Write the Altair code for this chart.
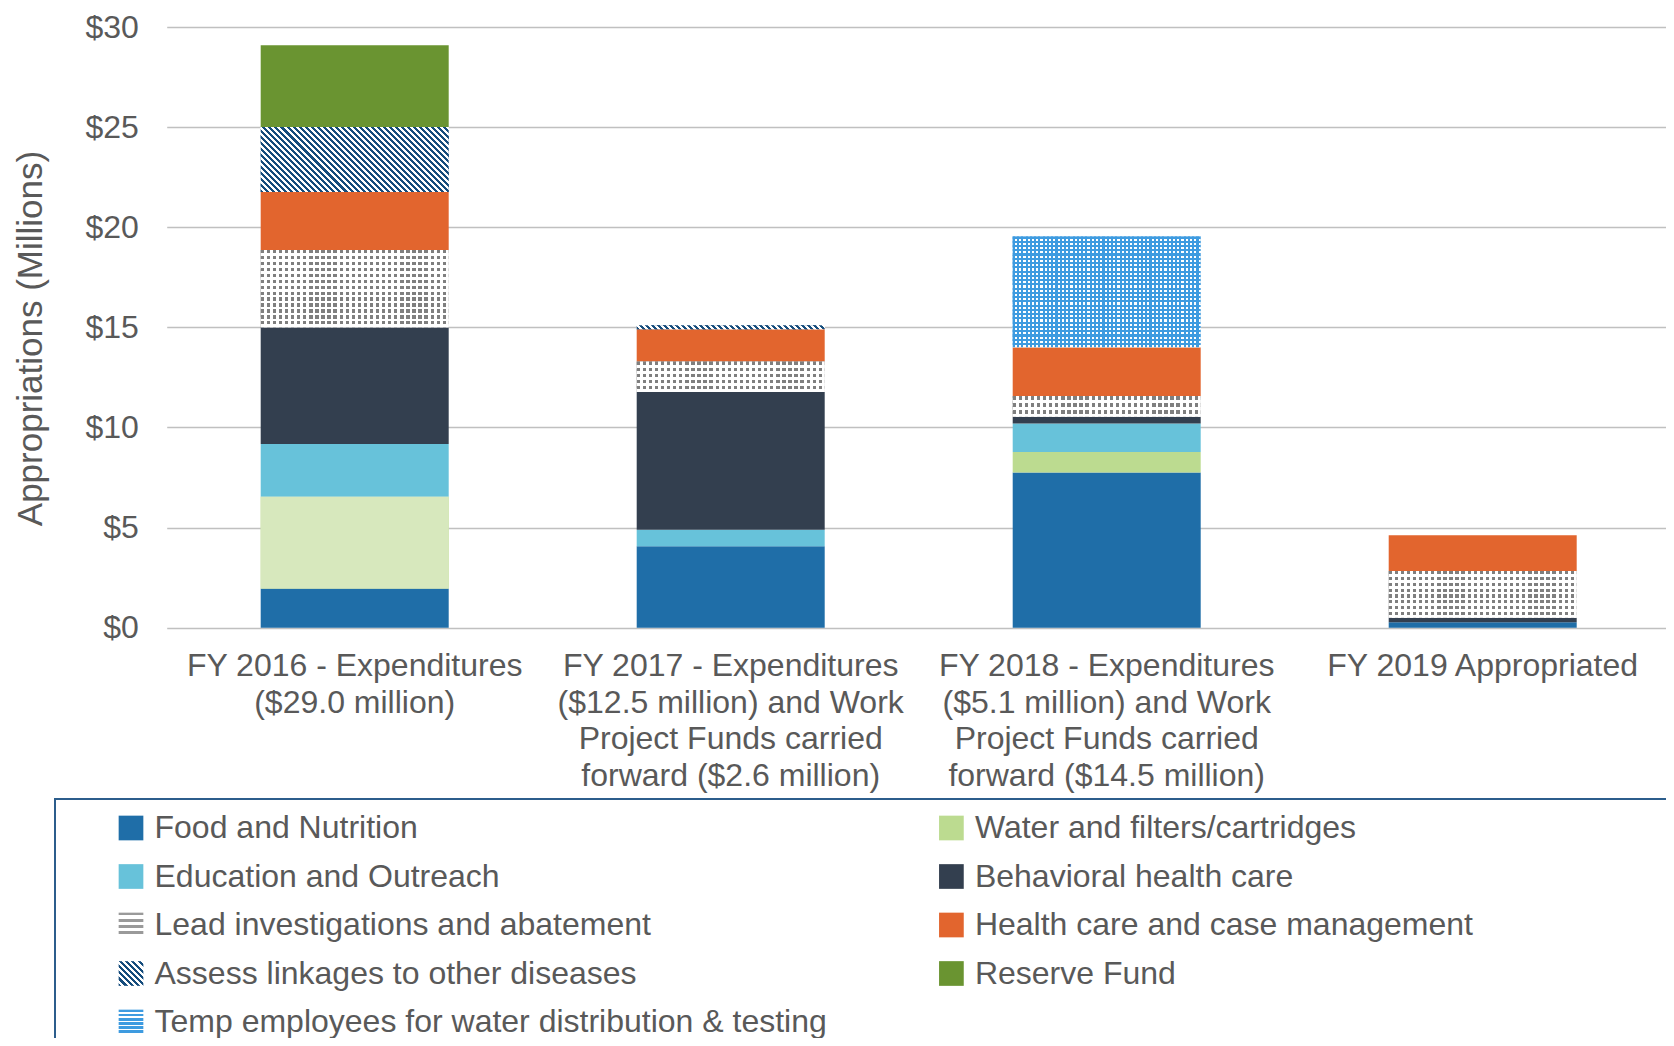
import altair as alt
import pandas as pd

# ---------------- data ----------------
periods = [
    "FY 2016 - Expenditures|($29.0 million)",
    "FY 2017 - Expenditures|($12.5 million) and Work|Project Funds carried|forward ($2.6 million)",
    "FY 2018 - Expenditures|($5.1 million) and Work|Project Funds carried|forward ($14.5 million)",
    "FY 2019 Appropriated",
]
categories = [
    "Food and Nutrition",
    "Water and filters/cartridges",
    "Education and Outreach",
    "Behavioral health care",
    "Lead investigations and abatement",
    "Health care and case management",
    "Assess linkages to other diseases",
    "Reserve Fund",
    "Temp employees for water distribution & testing",
]
food = [1.96, 4.07, 7.75, 0.27]
water = [4.58, 0.0, 1.03, 0.0]
education = [2.63, 0.82, 1.42, 0.0]
behavioral = [5.84, 6.88, 0.34, 0.23]
lead = [3.85, 1.52, 1.03, 2.33]
health = [2.90, 1.61, 2.44, 1.79]
assess = [3.24, 0.21, 0.0, 0.0]
reserve = [4.09, 0.0, 0.0, 0.0]
temp = [0.0, 0.0, 5.53, 0.0]
series = [food, water, education, behavioral, lead, health, assess, reserve, temp]

y_ticks = [0, 5, 10, 15, 20, 25, 30]

rows = []
for ci, (cat, vals) in enumerate(zip(categories, series)):
    for pi, (p, v) in enumerate(zip(periods, vals)):
        if v > 0:
            rows.append({"period": p, "cat": cat, "value": v, "ord": ci})
df = pd.DataFrame(rows)

# ---------------- styling ----------------
FONT = "Liberation Sans"
GREY = "#595959"
PLOT_W = 1504
PLOT_TOP = 19
PLOT_H = 600.7
PLOT_LEFT = 158.7
Y_MAX = 30
BAR_W = PLOT_W / 4 * 0.5
PX = PLOT_H / Y_MAX
CLEAR = "rgba(255,255,255,0)"

C_FOOD = "#1f6ea8"
C_WATER = "#bcdb90"
C_WATER16 = "#d7e8bd"
C_EDU = "#67c2da"
C_BEH = "#333f4f"
C_HEALTH = "#e2652e"
C_RES = "#6a9431"
C_LEAD = "#7f7f7f"
C_ASSESS = "#154c7c"
C_TEMP = "#3e9be0"


def stops_list(n, frac, ca, cb):
    out = []
    for i in range(n):
        s, m, e = i / n, (i + frac) / n, min((i + 1) / n, 1.0)
        out += [(round(s, 5), ca), (round(m, 5), ca), (round(m, 5), cb), (round(e, 5), cb)]
    return out


def grad(n, frac, ca, cb, x1, y1, x2, y2):
    return alt.LinearGradient(
        gradient="linear",
        stops=[alt.GradientStop(offset=o, color=c) for o, c in stops_list(n, frac, ca, cb)],
        x1=x1, y1=y1, x2=x2, y2=y2,
    )


def grad_expr(n, frac, ca, cb, x1, y1, x2, y2):
    st = ",".join("{offset:%s,color:'%s'}" % (o, c) for o, c in stops_list(n, frac, ca, cb))
    return alt.ExprRef(
        expr="{gradient:'linear',x1:%s,y1:%s,x2:%s,y2:%s,stops:[%s]}" % (x1, y1, x2, y2, st)
    )


fills = {
    categories[0]: C_FOOD,
    categories[1]: C_WATER,
    categories[2]: C_EDU,
    categories[3]: C_BEH,
    categories[4]: grad_expr(4, 0.45, "#9a9a9a", "#ffffff", 0, 0, 0, 1),
    categories[5]: C_HEALTH,
    categories[6]: grad_expr(8, 0.5, C_ASSESS, "#ffffff", 0, 1, 1, 0),
    categories[7]: C_RES,
    categories[8]: grad_expr(6, 0.65, C_TEMP, "#ffffff", 0, 0, 0, 1),
}
# legend fills column by column: left column then right column
legend_order = [categories[i] for i in (0, 2, 4, 6, 8, 1, 3, 5, 7)]
legend_colors = [fills[c] for c in legend_order]

x_enc = alt.X(
    "period:N",
    sort=periods,
    scale=alt.Scale(paddingInner=0.5, paddingOuter=0.25),
    axis=alt.Axis(
        title=None, labelAngle=0, labelExpr="split(datum.label, '|')",
        labelFontSize=32, labelFont=FONT, labelColor=GREY, labelLineHeight=36.5,
        labelPadding=23, labelLimit=500, domain=False, ticks=False, grid=False,
    ),
)
y_enc = alt.Y(
    "v0:Q",
    scale=alt.Scale(domain=[0, Y_MAX], nice=False),
    axis=alt.Axis(
        title="Appropriations (Millions)", values=y_ticks,
        labelExpr="'$' + datum.value", labelFontSize=32, labelFont=FONT,
        labelColor=GREY, labelPadding=28.4, domain=False, ticks=False,
        grid=True, gridColor="#c0c0c0", gridWidth=1.5,
        titleFontSize=35, titleFont=FONT, titleColor=GREY, titleFontWeight="normal",
        titleAngle=270, titleX=30 - 8 - PLOT_LEFT, titleY=338 - 8 - PLOT_TOP,
        titleAlign="center", titleBaseline="middle",
    ),
)
y2_enc = alt.Y2("v1:Q")

base = alt.Chart(df).transform_stack(
    stack="value", groupby=["period"], as_=["v0", "v1"],
    sort=[alt.SortField("ord", order="ascending")],
)

LEG_PAD = 13
main = base.mark_bar().encode(
    x=x_enc, y=y_enc, y2=y2_enc,
    color=alt.Color(
        "cat:N",
        scale=alt.Scale(domain=legend_order, range=legend_colors),
        legend=alt.Legend(
            title=" ", titleOrient="right", titleFontSize=10, titlePadding=205,
            orient="none", legendX=55 - 8 - PLOT_LEFT, legendY=799 - 8 - PLOT_TOP,
            columns=2, symbolOffset=47,
            columnPadding=61.4, rowPadding=16.5, symbolType="square", symbolSize=610,
            symbolStrokeWidth=0, labelFontSize=32, labelFont=FONT, labelColor=GREY,
            labelOffset=7.5, labelLimit=900, padding=LEG_PAD, strokeColor="#2c5d8c",
            fillColor="#ffffff",
        ),
    ),
)


def seg(cat, period=None):
    c = base
    if period is None:
        c = c.transform_filter(alt.datum.cat == cat)
    else:
        c = c.transform_filter((alt.datum.cat == cat) & (alt.datum.period == period))
    return c


def over(chart, fill):
    return chart.mark_bar(fill=fill).encode(x=x_enc, y=y_enc, y2=y2_enc)


layers = [main]

# lighter water segment in FY 2016
layers.append(over(seg(categories[1], periods[0]), C_WATER16))

# Lead: grey squares on white
LEAD_P = 6.0
layers.append(over(seg(categories[4]), C_LEAD))
for p, v in zip(periods, lead):
    if v > 0:
        n = max(1, round(v * PX / LEAD_P))
        layers.append(over(seg(categories[4], p), grad(n, 0.55, CLEAR, "#ffffff", 0, 0, 0, 1)))
layers.append(over(seg(categories[4]),
                   grad(round(BAR_W / LEAD_P), 0.55, CLEAR, "#ffffff", 0, 0, 1, 0)))

# Assess: diagonal navy stripes at 45 degrees
ASSESS_P = 6.0
for p, v in zip(periods, assess):
    if v > 0:
        r = v * PX / BAR_W
        k = (1 + r) / (1 + r * r)
        n = max(1, round(BAR_W * (1 + r) / ASSESS_P))
        layers.append(over(seg(categories[6], p),
                           grad(n, 0.5, C_ASSESS, "#ffffff", 0, 1, round(k, 5), round(1 - k * r, 5))))

# Temp: blue with white dots
TEMP_P = 4.3
layers.append(over(seg(categories[8]), "#ffffff"))
for p, v in zip(periods, temp):
    if v > 0:
        n = max(1, round(v * PX / TEMP_P))
        layers.append(over(seg(categories[8], p), grad(n, 0.5, C_TEMP, CLEAR, 0, 0, 0, 1)))
layers.append(over(seg(categories[8]),
                   grad(round(BAR_W / TEMP_P), 0.5, C_TEMP, CLEAR, 0, 0, 1, 0)))

chart = alt.layer(*layers).properties(
    width=PLOT_W,
    height=PLOT_H,
    padding={"left": PLOT_LEFT, "top": PLOT_TOP, "right": 1658 - PLOT_LEFT - PLOT_W,
             "bottom": 1030 - PLOT_TOP - PLOT_H},
    autosize=alt.AutoSizeParams(type="none"),
).configure_view(stroke=None).configure_legend(strokeWidth=2)

chart.save("out.html", embed_options={"renderer": "svg", "actions": False})
